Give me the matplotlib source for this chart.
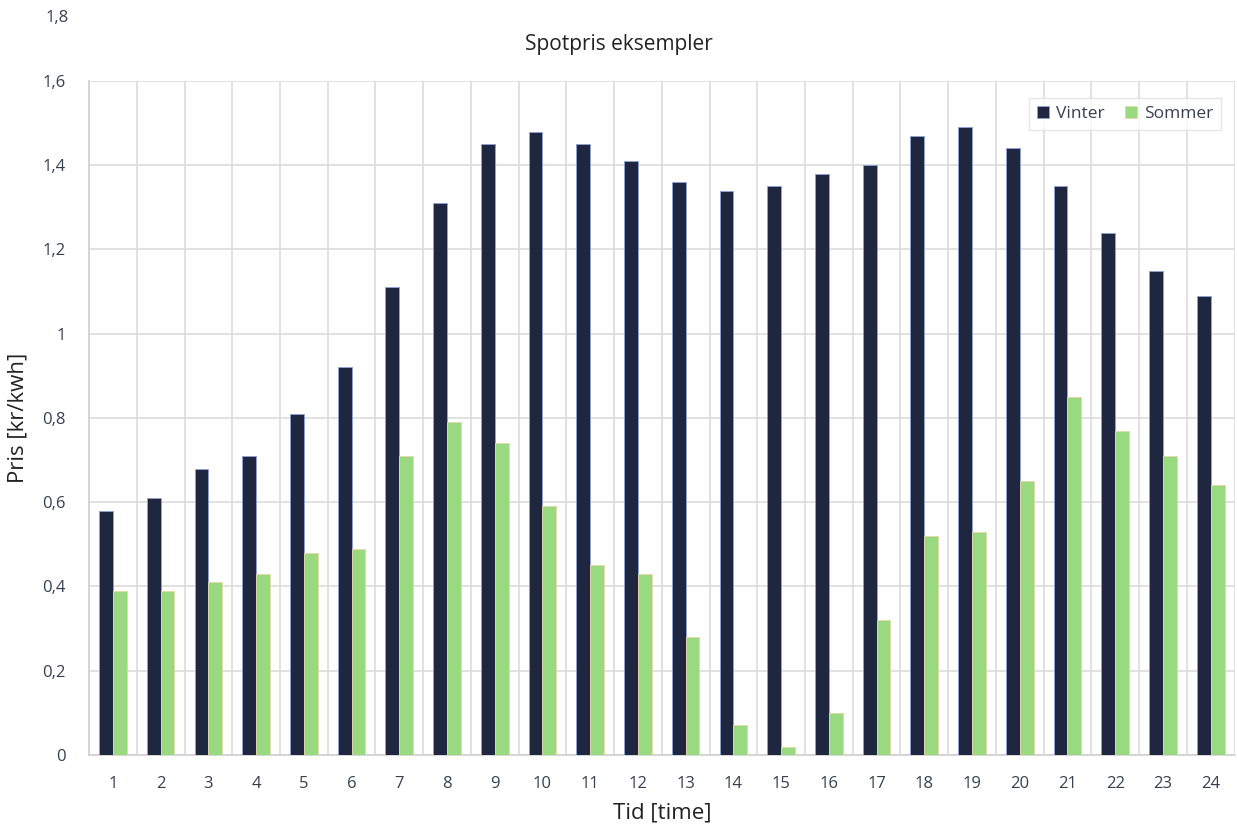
import matplotlib.pyplot as plt
import numpy as np

plt.rcParams['font.family'] = ['Open Sans', 'DejaVu Sans']

timer = list(range(1, 25))
vinter = [0.58, 0.61, 0.68, 0.71, 0.81, 0.92, 1.11, 1.31, 1.45, 1.48, 1.45, 1.41,
          1.36, 1.34, 1.35, 1.38, 1.40, 1.47, 1.49, 1.44, 1.35, 1.24, 1.15, 1.09]
sommer = [0.39, 0.39, 0.41, 0.43, 0.48, 0.49, 0.71, 0.79, 0.74, 0.59, 0.45, 0.43,
          0.28, 0.07, 0.02, 0.10, 0.32, 0.52, 0.53, 0.65, 0.85, 0.77, 0.71, 0.64]
y_ticks = [0, 0.2, 0.4, 0.6, 0.8, 1.0, 1.2, 1.4, 1.6]
y_labels = ['0', '0,2', '0,4', '0,6', '0,8', '1', '1,2', '1,4', '1,6']

navy = '#1f2640'
gronn = '#99d97f'
grid_farge = '#dcdcdc'
tekst = '#3a3f4f'

fig = plt.figure(figsize=(12.37, 8.3), dpi=100)
ax = fig.add_axes([0.072, 0.0904, 0.926, 0.812])

x = np.arange(len(timer))
bredde = 0.29

ax.bar(x - bredde, vinter, bredde, align='edge', color=navy,
       edgecolor='#8fa3d6', linewidth=0.6, label='Vinter', zorder=3)
ax.bar(x, sommer, bredde, align='edge', color=gronn,
       edgecolor='#e6d9a8', linewidth=0.6, label='Sommer', zorder=3)

ax.set_xlim(-0.5, len(timer) - 0.5)
ax.set_ylim(0, 1.6)

ax.set_xticks(x)
ax.set_xticklabels([str(t) for t in timer], fontsize=12, color=tekst)
ax.set_xticks(np.arange(-0.5, len(timer)), minor=True)
ax.set_yticks(y_ticks)
ax.set_yticklabels(y_labels, fontsize=12, color=tekst)
ax.tick_params(axis='both', which='both', length=0)
ax.tick_params(axis='y', pad=17)
ax.tick_params(axis='x', pad=15)

ax.grid(axis='y', which='major', color=grid_farge, linewidth=1.2, zorder=0)
ax.grid(axis='x', which='minor', color=grid_farge, linewidth=1.2, zorder=0)

for side in ['top', 'right']:
    ax.spines[side].set_visible(False)
ax.spines['left'].set_color('#d0d0d0')
ax.spines['bottom'].set_color('#d0d0d0')
ax.spines['left'].set_linewidth(1.2)
ax.spines['bottom'].set_linewidth(1.2)

# ekstra etikett over plottet
fig.text(0.056, 0.978, '1,8', ha='right', va='center', fontsize=12, color=tekst)

fig.text(0.5, 0.946, 'Spotpris eksempler', ha='center', va='center', fontsize=15, color='#222222')
ax.set_xlabel('Tid [time]', fontsize=16, color='#222222', labelpad=8)
ax.set_ylabel('Pris [kr/kwh]', fontsize=16, color='#222222', labelpad=10)

leg = ax.legend(loc='upper right', ncol=2, fontsize=12.5, frameon=True, fancybox=False,
                handlelength=0.7, handleheight=0.7, handletextpad=0.4, columnspacing=1.2,
                borderpad=0.45, bbox_to_anchor=(0.996, 0.988))
leg.get_frame().set_edgecolor('#e0e0e0')
leg.get_frame().set_linewidth(1.0)
for t in leg.get_texts():
    t.set_color(tekst)

fig.savefig('out.png', dpi=100)
